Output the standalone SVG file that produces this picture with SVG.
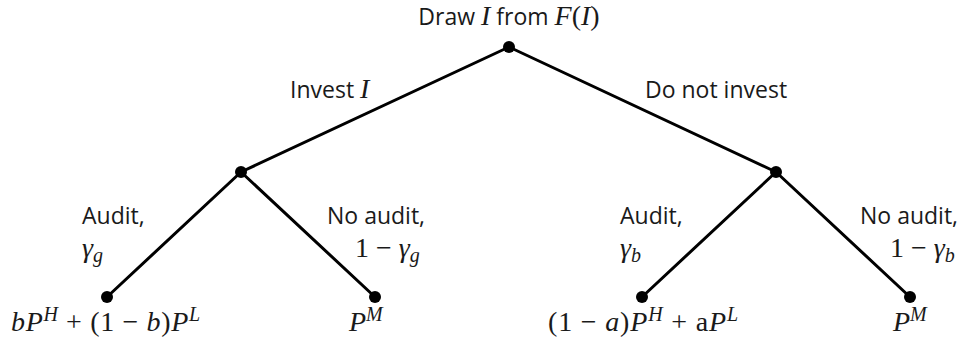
<svg xmlns="http://www.w3.org/2000/svg" width="963" height="339" viewBox="0 0 963 339">
<style>
.t{font-family:"Open Sans","Liberation Sans",sans-serif;font-size:23px;fill:#1a1a1a}
.m{font-family:"Liberation Serif","DejaVu Serif",serif;font-size:28px;fill:#1a1a1a}
.i{font-style:italic}
.s{font-size:20px}
.e{stroke:#000;stroke-width:3;fill:none;stroke-linecap:round}
.d{fill:#000}
</style>
<rect width="963" height="339" fill="#fff"/>
<g id="connectors">
<line class="e" x1="509" y1="47" x2="241" y2="172"/>
<line class="e" x1="509" y1="47" x2="776" y2="172"/>
<line class="e" x1="241" y1="172" x2="107" y2="297"/>
<line class="e" x1="241" y1="172" x2="375" y2="297"/>
<line class="e" x1="776" y1="172" x2="642" y2="297"/>
<line class="e" x1="776" y1="172" x2="910" y2="297"/>
</g>
<g id="root">
<circle class="d" cx="509" cy="47" r="6"/>
<text x="509" y="25" text-anchor="middle"><tspan class="t">Draw </tspan><tspan class="m i">I</tspan><tspan class="t"> from </tspan><tspan class="m i">F</tspan><tspan class="m">(</tspan><tspan class="m i">I</tspan><tspan class="m">)</tspan></text>
</g>
<g id="invest">
<circle class="d" cx="241" cy="172" r="6"/>
<text x="290" y="98"><tspan class="t">Invest </tspan><tspan class="m i">I</tspan></text>
</g>
<g id="notinvest">
<circle class="d" cx="776" cy="172" r="6"/>
<text class="t" x="645" y="98">Do not invest</text>
</g>
<g id="leaf1">
<circle class="d" cx="107" cy="297" r="6"/>
<text class="t" x="82" y="224">Audit,</text>
<text class="m" x="82" y="257"><tspan class="i">γ</tspan><tspan class="i s" dy="5">g</tspan></text>
<text class="m" x="11" y="331" textLength="189" lengthAdjust="spacing"><tspan class="i">bP</tspan><tspan class="i s" dy="-10">H</tspan><tspan dy="10"> + (1 − </tspan><tspan class="i">b</tspan><tspan>)</tspan><tspan class="i">P</tspan><tspan class="i s" dy="-10">L</tspan></text>
</g>
<g id="leaf2">
<circle class="d" cx="375" cy="297" r="6"/>
<text class="t" x="327" y="224">No audit,</text>
<text class="m" x="355" y="257"><tspan>1 − </tspan><tspan class="i">γ</tspan><tspan class="i s" dy="5">g</tspan></text>
<text class="m" x="349" y="331"><tspan class="i">P</tspan><tspan class="i s" dy="-10">M</tspan></text>
</g>
<g id="leaf3">
<circle class="d" cx="642" cy="297" r="6"/>
<text class="t" x="620" y="224">Audit,</text>
<text class="m" x="620" y="257"><tspan class="i">γ</tspan><tspan class="i s" dy="5">b</tspan></text>
<text class="m" x="548" y="331" textLength="190" lengthAdjust="spacing"><tspan>(1 − </tspan><tspan class="i">a</tspan><tspan>)</tspan><tspan class="i">P</tspan><tspan class="i s" dy="-10">H</tspan><tspan dy="10"> + a</tspan><tspan class="i">P</tspan><tspan class="i s" dy="-10">L</tspan></text>
</g>
<g id="leaf4">
<circle class="d" cx="910" cy="297" r="6"/>
<text class="t" x="860" y="224">No audit,</text>
<text class="m" x="890" y="257"><tspan>1 − </tspan><tspan class="i">γ</tspan><tspan class="i s" dy="5">b</tspan></text>
<text class="m" x="893" y="331"><tspan class="i">P</tspan><tspan class="i s" dy="-10">M</tspan></text>
</g>
</svg>
